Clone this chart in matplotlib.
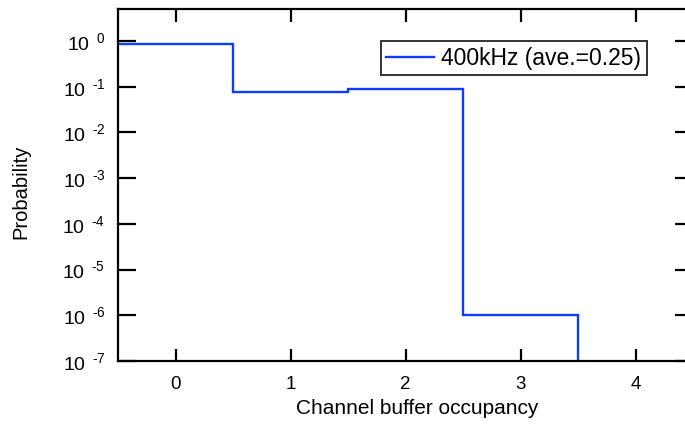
import math
import matplotlib
matplotlib.use("Agg")
import matplotlib.pyplot as plt
from matplotlib.ticker import FixedLocator, FuncFormatter, NullLocator

plt.rcParams['font.family'] = ['Liberation Sans', 'DejaVu Sans']
plt.rcParams['mathtext.fontset'] = 'custom'
plt.rcParams['mathtext.rm'] = 'Liberation Sans'
plt.rcParams['mathtext.it'] = 'Liberation Sans'

# Occupancy distribution (bin edges and per-bin probability)
occupancy_edges = [-0.5, 0.5, 1.5, 2.5, 3.5, 4.5]
probability = [0.85, 0.078, 0.088, 1e-6, 0.0]
series_label = "400kHz (ave.=0.25)"
x_ticks = [0, 1, 2, 3, 4]
y_exponents = [0, -1, -2, -3, -4, -5, -6, -7]

fig = plt.figure(figsize=(6.85, 4.26), dpi=100)
# axes extends slightly beyond the right edge of the canvas
ax = fig.add_axes([118 / 685, 1 - 361 / 426, 575 / 685, 352 / 426])

y_steps = list(probability) + [probability[-1]]
ax.plot(occupancy_edges, y_steps, drawstyle='steps-post', color='#0d3dfc',
        lw=1.7, label=series_label, solid_joinstyle='miter')

ax.set_yscale('log', nonpositive='clip')
ax.set_xlim(-0.5, 4.5)
ax.set_ylim(1e-7, 10 ** 0.7)

ax.xaxis.set_major_locator(FixedLocator(x_ticks))
ax.yaxis.set_major_locator(FixedLocator([10.0 ** e for e in y_exponents]))
ax.yaxis.set_minor_locator(NullLocator())
ax.xaxis.set_minor_locator(NullLocator())


def log_label(v, pos):
    e = int(round(math.log10(v)))
    return r'$\mathregular{10}^{\ \ \text{%d}}$' % e


ax.yaxis.set_major_formatter(FuncFormatter(log_label))

for s in ax.spines.values():
    s.set_linewidth(1.6)
ax.tick_params(axis='both', which='major', direction='in', width=1.6,
               colors='black', top=True, right=True)
ax.tick_params(axis='y', length=13, pad=9, labelsize=14)
ax.tick_params(axis='x', length=9, pad=11, labelsize=13.5)

ax.set_xlabel("Channel buffer occupancy", fontsize=15)
ax.xaxis.set_label_coords(0.52, -0.108)
ax.set_ylabel("Probability", fontsize=14.5)
ax.yaxis.set_label_coords(-0.152, 0.48)

leg = ax.legend(loc='upper right', bbox_to_anchor=(647 / 685, 1 - 41 / 426),
                bbox_transform=fig.transFigure, fontsize=16.5, frameon=True,
                fancybox=False, handlelength=2.1, borderpad=0.25,
                handletextpad=0.3, borderaxespad=0)
leg.get_frame().set_edgecolor('black')
leg.get_frame().set_linewidth(1.4)

fig.savefig("out.png", dpi=100)
